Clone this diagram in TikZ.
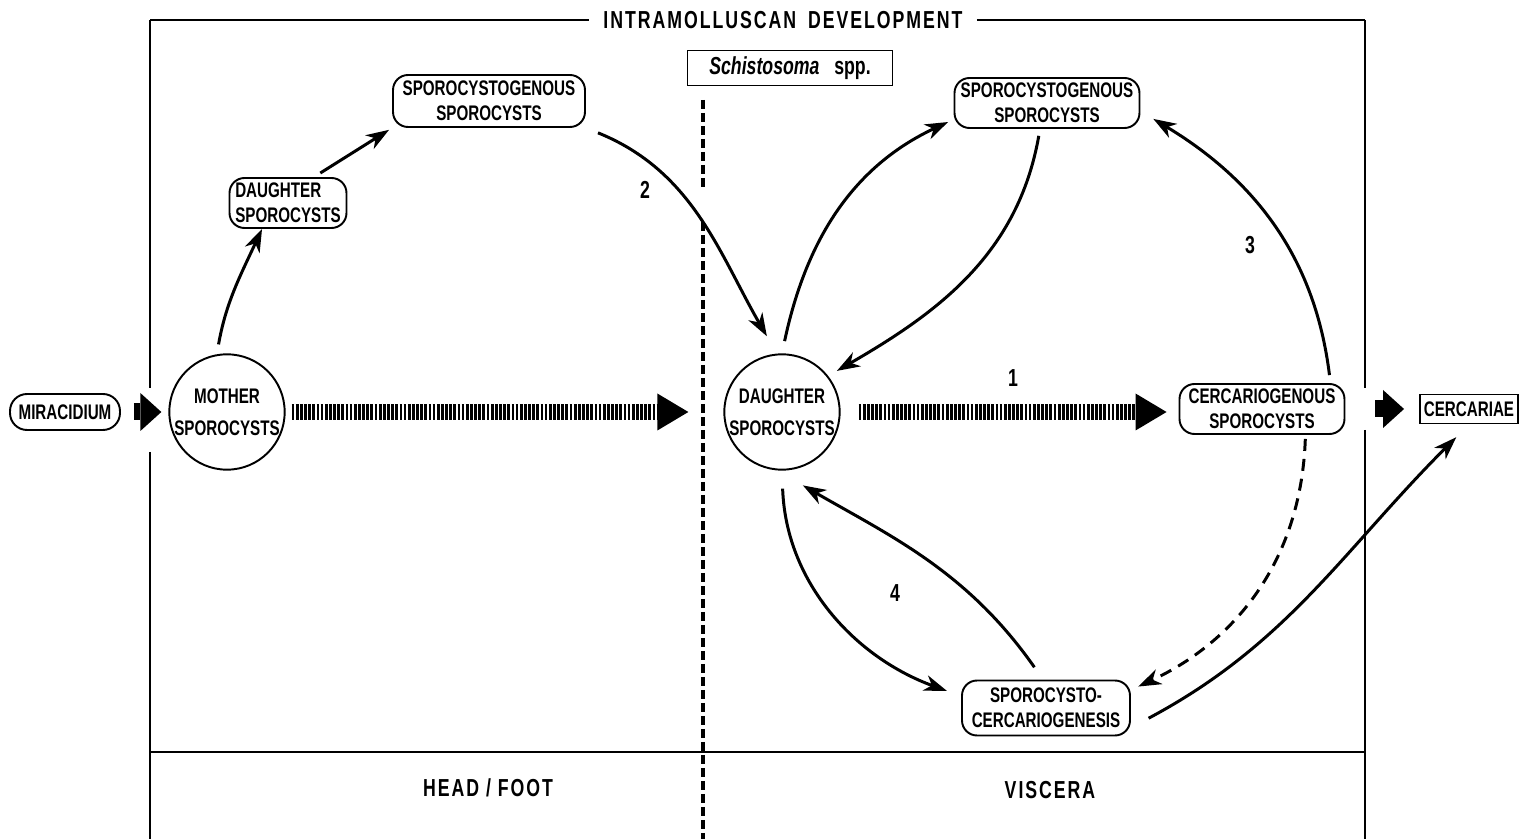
\documentclass[tikz,border=0pt]{standalone}
\usepackage{fontspec}
\setmainfont{Liberation Sans}[FakeStretch=0.72]
\usetikzlibrary{arrows.meta,positioning}

\tikzset{
  box/.style={draw, line width=1.1pt, rounded corners=0.3cm, align=center, inner sep=0pt, font=\bfseries\fontsize{12}{14.5}\selectfont},
  blob/.style={draw, circle, line width=1.1pt, minimum size=2.28cm, inner sep=0pt, align=center, font=\bfseries\fontsize{12}{14.5}\selectfont},
  link/.style={line width=1.7pt, -{Stealth[length=4.6mm,width=3.2mm,inset=1.4mm]}},
  fat/.style={line width=0.34cm, -{Triangle[length=0.42cm,width=0.76cm,line width=0pt]}},
  hatch/.style={line width=0.32cm, dash pattern=on 0.055cm off 0.028cm, -{Triangle[length=0.62cm,width=0.74cm,line width=0pt]}},
  num/.style={font=\bfseries\fontsize{14}{16}\selectfont},
  head/.style={font=\bfseries\fontsize{14}{16}\selectfont\addfontfeature{LetterSpace=8}},
  frame/.style={line width=1.3pt},
  divide/.style={line width=2pt, dash pattern=on 0.18cm off 0.08cm},
}

\begin{document}
\begin{tikzpicture}[x=0.02cm, y=0.02cm]
    \useasboundingbox (0,0) rectangle (1526,839);

    \node[head, inner xsep=0.28cm] (ttl) at (783,819) {INTRAMOLLUSCAN\hspace{0.2em} DEVELOPMENT};
    \draw[frame] (150,819) -- (ttl.west);
    \draw[frame] (ttl.east) -- (1365,819);
    \draw[frame] (150,819) -- (150,451);
    \draw[frame] (150,387) -- (150,0);
    \draw[frame] (1365,819) -- (1365,451);
    \draw[frame] (1365,409) -- (1365,0);
    \draw[frame] (150,87) -- (1365,87);
    \draw[divide] (703,739) -- (703,651);
    \draw[divide] (703,617) -- (703,0);

    \node[draw, line width=1.1pt, minimum width=4.1cm, minimum height=0.7cm, num] (spp) at (790,771) {\textit{Schistosoma}\hspace{0.6em}spp.};

    \node[box, minimum width=2.2cm, minimum height=0.72cm, rounded corners=0.34cm] (mir) at (65,427) {MIRACIDIUM};
    \node[blob] (mom) at (227,427) {MOTHER\\[4pt]SPOROCYSTS};
    \node[blob] (dau) at (782,427) {DAUGHTER\\[4pt]SPOROCYSTS};
    \node[box, minimum width=3.3cm, minimum height=1cm] (cgs) at (1262,430) {CERCARIOGENOUS\\SPOROCYSTS};
    \node[draw, line width=1.1pt, minimum width=1.96cm, minimum height=0.58cm, inner sep=0pt, font=\bfseries\fontsize{12}{14.5}\selectfont] (cer) at (1469,430) {CERCARIAE};
    \node[box, align=left, minimum width=2.34cm, minimum height=1cm] (dsp) at (288,636) {DAUGHTER\\SPOROCYSTS};
    \node[box, minimum width=3.84cm, minimum height=1.04cm] (sgl) at (489,738) {SPOROCYSTOGENOUS\\SPOROCYSTS};
    \node[box, minimum width=3.7cm, minimum height=1cm] (sgr) at (1047,736) {SPOROCYSTOGENOUS\\SPOROCYSTS};
    \node[box, minimum width=3.36cm, minimum height=1.1cm] (scg) at (1046,131) {SPOROCYSTO-\\CERCARIOGENESIS};

    \node[num] (n1) at (1013,461) {1};
    \node[num] (n2) at (645,649) {2};
    \node[num] (n3) at (1250,594) {3};
    \node[num] (n4) at (895,246) {4};
    \node[head] (hf) at (488,51) {HEAD / FOOT};
    \node[head] (vis) at (1050,49) {VISCERA};

    % main line of development
    \draw[fat, shorten <=0.26cm, shorten >=0.14cm] (mir) -- (mom);
    \draw[hatch, shorten <=0.12cm, shorten >=0.7cm] (mom) -- (dau);
    \draw[hatch, shorten <=0.36cm, shorten >=0.24cm] (dau.east) -- (dau.east -| cgs.west);
    \draw[fat, shorten <=0.6cm, shorten >=0.3cm] (cgs) -- (cer);

    % head / foot
    \draw[link, shorten <=0.2cm] (mom.100) to[out=80,in=245] (dsp.225);
    \draw[link, shorten <=0.15cm, shorten >=2pt] (dsp.45) -- (sgl.south west);
    \draw[link, shorten <=0.26cm, shorten >=0.4cm] (sgl.south east) to[out=-22,in=120] (dau.95);

    % viscera
    \draw[link, shorten <=0.25cm, shorten >=0.12cm] (dau.90) to[out=78,in=205] (sgr.190);
    \draw[link, shorten <=0.14cm, shorten >=0.2cm] ([xshift=-0.14cm]sgr.south) to[out=-100,in=30] (dau.38);
    \draw[link, shorten <=0.16cm, shorten >=0.3cm] ([xshift=-0.3cm]cgs.north east) to[out=97,in=-31] (sgr.-5);
    \draw[link, dash pattern=on 0.24cm off 0.16cm, shorten <=0.08cm, shorten >=0.16cm] ([xshift=-0.8cm]cgs.south east) to[out=-92,in=25] (scg.12);
    \draw[link, shorten <=0.36cm, shorten >=0.3cm] (dau.south) to[out=-88,in=160] (scg.172);
    \draw[link, shorten <=0.3cm, shorten >=0.6cm] ([xshift=-0.06cm]scg.north) to[out=125,in=-30] (dau.-95);
    \draw[link, shorten <=0.4cm, shorten >=0.36cm] (scg.-13) to[out=28,in=-135] (cer.south);
\end{tikzpicture}
\end{document}
